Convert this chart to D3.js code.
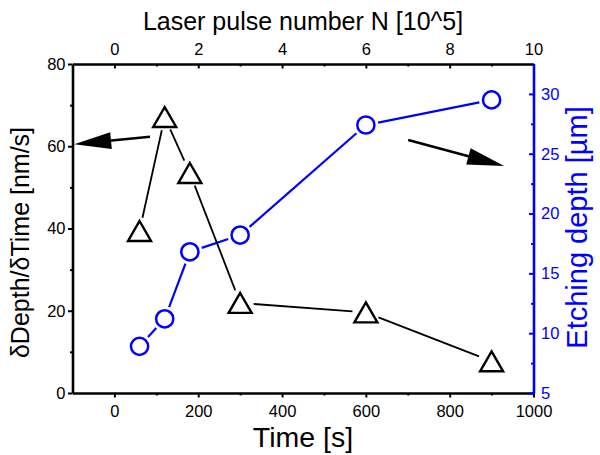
<!DOCTYPE html>
<html>
<head>
<meta charset="utf-8">
<script src="https://cdn.jsdelivr.net/npm/d3@7"></script>
<style>
  body { margin: 0; background: #fff; }
  text { font-family: "Liberation Sans", Arial, sans-serif; }
</style>
</head>
<body>
<div id="chart"></div>
<script>
// values
const time = [60, 120, 180, 300, 600, 900];
const rate = [39.4, 67.1, 53.5, 21.9, 19.6, 7.7];     // nm/s, left axis
const depth = [8.9, 11.2, 16.8, 18.2, 27.4, 29.5];    // um, right axis

const timeTicks = [0, 200, 400, 600, 800, 1000];
const timeMinor = [100, 300, 500, 700, 900];
const pulseTicks = [0, 2, 4, 6, 8, 10];
const pulseMinor = [1, 3, 5, 7, 9];
const rateTicks = [0, 20, 40, 60, 80];
const rateMinor = [10, 30, 50, 70];
const depthTicks = [5, 10, 15, 20, 25, 30];
const depthMinor = [7.5, 12.5, 17.5, 22.5, 27.5];

// arrows: [time0, rate0, time1, rate1] tail -> tip
const arrows = [
  [85, 62.3, -96, 60.5],
  [701, 61.5, 930, 55.2]
];

const width = 600, height = 455;
const margin = { top: 64, right: 66.5, bottom: 62, left: 72.5 };
const blue = "#0000ff";
const tickFont = "16.5px";

const svg = d3.select("#chart").append("svg")
  .attr("width", width)
  .attr("height", height);

const x = d3.scaleLinear().domain([-100, 1000]).range([margin.left, width - margin.right]);
const xTop = d3.scaleLinear().domain([-1, 10]).range([margin.left, width - margin.right]);
const yL = d3.scaleLinear().domain([0, 80]).range([height - margin.bottom, margin.top]);
const yR = d3.scaleLinear().domain([5, 32.5]).range([height - margin.bottom, margin.top]);

const styleAxis = (g, color) => {
  g.select(".domain").attr("stroke", color).attr("stroke-width", 2.6);
  g.selectAll(".tick line").attr("stroke", color).attr("stroke-width", 2);
  g.selectAll(".tick text")
    .attr("fill", color)
    .style("font-size", tickFont)
    .style("font-family", "Liberation Sans, Arial, sans-serif");
};

const minorAxis = (axis, vals, size) => axis.tickValues(vals).tickFormat(() => "").tickSizeInner(size).tickSizeOuter(0);
const fmt = d3.format("d");

// bottom
svg.append("g")
  .attr("transform", `translate(0,${yL(0)})`)
  .call(minorAxis(d3.axisBottom(x), timeMinor, 2.5))
  .call(g => { g.select(".domain").remove(); g.selectAll("line").attr("stroke", "#000").attr("stroke-width", 2); });
svg.append("g")
  .attr("transform", `translate(0,${yL(0)})`)
  .call(d3.axisBottom(x).tickValues(timeTicks).tickFormat(fmt).tickSizeInner(4.5).tickSizeOuter(0).tickPadding(8))
  .call(g => styleAxis(g, "#000"));

// top
svg.append("g")
  .attr("transform", `translate(0,${margin.top})`)
  .call(minorAxis(d3.axisTop(xTop), pulseMinor, -2.5))
  .call(g => { g.select(".domain").remove(); g.selectAll("line").attr("stroke", "#000").attr("stroke-width", 2); });
svg.append("g")
  .attr("transform", `translate(0,${margin.top})`)
  .call(d3.axisTop(xTop).tickValues(pulseTicks).tickFormat(fmt).tickSizeInner(-4.5).tickSizeOuter(0).tickPadding(9.5))
  .call(g => styleAxis(g, "#000"));

// left
svg.append("g")
  .attr("transform", `translate(${margin.left},0)`)
  .call(minorAxis(d3.axisLeft(yL), rateMinor, 2.5))
  .call(g => { g.select(".domain").remove(); g.selectAll("line").attr("stroke", "#000").attr("stroke-width", 2); });
svg.append("g")
  .attr("transform", `translate(${margin.left},0)`)
  .call(d3.axisLeft(yL).tickValues(rateTicks).tickSizeInner(4.5).tickSizeOuter(0).tickPadding(2.5))
  .call(g => styleAxis(g, "#000"));

// right
svg.append("g")
  .attr("transform", `translate(${width - margin.right},0)`)
  .call(minorAxis(d3.axisRight(yR), depthMinor, -2.5))
  .call(g => { g.select(".domain").remove(); g.selectAll("line").attr("stroke", blue).attr("stroke-width", 2); });
svg.append("g")
  .attr("transform", `translate(${width - margin.right},0)`)
  .call(d3.axisRight(yR).tickValues(depthTicks).tickSizeInner(-4.5).tickSizeOuter(0).tickPadding(7.5))
  .call(g => styleAxis(g, blue));

// segments with a small gap at each marker, like the original plot
const gappedSegments = (pts, gap) => {
  const segs = [];
  for (let i = 0; i < pts.length - 1; i++) {
    const [x0, y0] = pts[i], [x1, y1] = pts[i + 1];
    const len = Math.hypot(x1 - x0, y1 - y0);
    if (len <= 2 * gap) continue;
    const ux = (x1 - x0) / len, uy = (y1 - y0) / len;
    segs.push([x0 + ux * gap, y0 + uy * gap, x1 - ux * gap, y1 - uy * gap]);
  }
  return segs;
};

const ratePts = time.map((t, i) => [x(t), yL(rate[i])]);
const depthPts = time.map((t, i) => [x(t), yR(depth[i])]);

svg.append("g").selectAll("line")
  .data(gappedSegments(depthPts, 12.5))
  .enter().append("line")
  .attr("x1", d => d[0]).attr("y1", d => d[1])
  .attr("x2", d => d[2]).attr("y2", d => d[3])
  .attr("stroke", blue)
  .attr("stroke-width", 2.2);

svg.append("g").selectAll("line")
  .data(gappedSegments(ratePts, 13.5))
  .enter().append("line")
  .attr("x1", d => d[0]).attr("y1", d => d[1])
  .attr("x2", d => d[2]).attr("y2", d => d[3])
  .attr("stroke", "#000")
  .attr("stroke-width", 1.8);

const side = 23, h = side * Math.sqrt(3) / 2;
const triangle = `M0,${-h / 2}L${side / 2},${h / 2}L${-side / 2},${h / 2}Z`;

svg.append("g").selectAll("path")
  .data(ratePts)
  .enter().append("path")
  .attr("d", triangle)
  .attr("transform", d => `translate(${d[0]},${d[1]})`)
  .attr("fill", "none")
  .attr("stroke", "#000")
  .attr("stroke-width", 2.4)
  .attr("stroke-linejoin", "miter");

svg.append("g").selectAll("circle")
  .data(depthPts)
  .enter().append("circle")
  .attr("cx", d => d[0])
  .attr("cy", d => d[1])
  .attr("r", 8.6)
  .attr("fill", "none")
  .attr("stroke", blue)
  .attr("stroke-width", 2.5);

// annotation arrows
arrows.forEach(a => {
  const x0 = x(a[0]), y0 = yL(a[1]), x1 = x(a[2]), y1 = yL(a[3]);
  const len = Math.hypot(x1 - x0, y1 - y0);
  const ux = (x1 - x0) / len, uy = (y1 - y0) / len;
  const headLen = 37, headW = 8.5;
  const bx = x1 - ux * headLen, by = y1 - uy * headLen;
  svg.append("line")
    .attr("x1", x0).attr("y1", y0)
    .attr("x2", bx + ux * 2).attr("y2", by + uy * 2)
    .attr("stroke", "#000")
    .attr("stroke-width", 2.6);
  svg.append("path")
    .attr("d", `M${x1},${y1}L${bx - uy * headW},${by + ux * headW}L${bx + uy * headW},${by - ux * headW}Z`)
    .attr("fill", "#000");
});

// titles
svg.append("text")
  .attr("x", x(450))
  .attr("y", 447)
  .attr("text-anchor", "middle")
  .style("font-size", "28.5px")
  .text("Time [s]");

svg.append("text")
  .attr("x", xTop(4.5))
  .attr("y", 30)
  .attr("text-anchor", "middle")
  .style("font-size", "25px")
  .text("Laser pulse number N [10^5]");

svg.append("text")
  .attr("transform", `translate(29,${yL(40) + 14}) rotate(-90)`)
  .attr("text-anchor", "middle")
  .style("font-size", "25px")
  .text("δDepth/δTime [nm/s]");

svg.append("text")
  .attr("transform", `translate(587,${yR(18.75) - 1}) rotate(-90)`)
  .attr("text-anchor", "middle")
  .attr("fill", blue)
  .style("font-size", "29px")
  .text("Etching depth [µm]");
</script>
</body>
</html>
